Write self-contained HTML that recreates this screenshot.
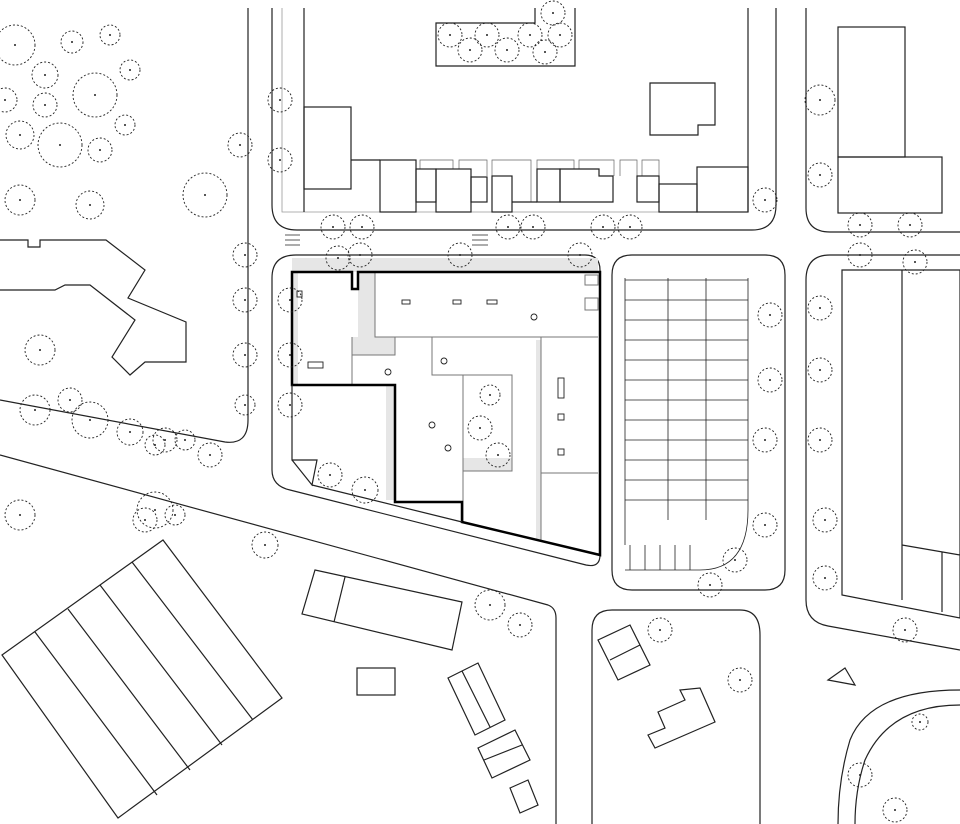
<!DOCTYPE html>
<html><head><meta charset="utf-8"><style>html,body{margin:0;padding:0;background:#fff}svg{display:block}</style></head>
<body>
<svg width="960" height="824" viewBox="0 0 960 824" xmlns="http://www.w3.org/2000/svg" fill="none" stroke="#222" stroke-width="1.2">
<!-- roads -->
<path d="M248 8 V420 Q248 445 225 442 L0 400"/>
<path d="M0 455 L548 605 Q556 608 556 618 V824"/>
<path d="M272 8 V205 Q272 230 297 230 H752 Q776 230 776 205 V8"/>
<path d="M282 8 V212 H748 V8" stroke="#999" stroke-width="0.8"/>
<path d="M304 8 V212 M748 8 V212"/>
<path d="M806 8 V208 Q806 232 830 232 H960"/>
<!-- main block -->
<path d="M296 255 H585 Q600 255 600 270 V555 Q600 568 586 565 L290 490 Q272 486 272 470 V278 Q272 255 296 255Z"/>
<path d="M292 258 H598 V272 H292 Z M292 272 H298 V385 H292Z" fill="#e6e6e6" stroke="none"/>
<path d="M358 272 H375 V337 H358Z M352 337 H395 V355 H352Z M463 458 H512 V471 H463Z M536 340 H541 V540 H536Z M386 385 H395 V500 H386Z" fill="#e6e6e6" stroke="none"/>
<g stroke="#777" stroke-width="1">
<path d="M375 272 V337 H598 M352 337 V385 M352 355 H395 V337"/>
<path d="M432 337 V375 H463 V522 M463 375 H512 V471 H463"/>
<path d="M541 337 V540 M541 473 H598"/>
<path d="M585 275 H598 V285 H585Z M585 298 H598 V310 H585Z"/>
</g>
<path d="M292 272 H352 V289 H358 V272 H600 V555 L462 522 V502 H395 V385 H292 Z" stroke="#000" stroke-width="2.5"/>
<path d="M292 385 V460 H317 L312 485 L292 460 M312 485 L462 522"/>
<g stroke-width="0.9">
<rect x="297" y="291" width="5" height="6"/><rect x="308" y="362" width="15" height="6"/><rect x="402" y="300" width="8" height="4"/><rect x="453" y="300" width="8" height="4"/><rect x="487" y="300" width="10" height="4"/><rect x="558" y="378" width="6" height="20"/><rect x="558" y="414" width="6" height="6"/><rect x="558" y="449" width="6" height="6"/>
<circle cx="534" cy="317" r="3"/><circle cx="444" cy="361" r="3"/><circle cx="388" cy="372" r="3"/><circle cx="432" cy="425" r="3"/><circle cx="448" cy="448" r="3"/>
</g>
<path d="M632 255 H765 Q785 255 785 275 V570 Q785 590 765 590 H632 Q612 590 612 570 V275 Q612 255 632 255Z"/>
<path d="M830 255 H960 M806 280 Q806 255 830 255 M806 280 V600 Q806 622 828 626 L960 650"/>
<path d="M612 610 H740 Q760 610 760 635 V824"/>
<path d="M612 610 Q592 610 592 630 V824"/>
<path d="M960 690 Q870 690 850 740 Q838 780 838 824"/>
<path d="M960 705 Q890 705 865 760 Q855 790 855 824"/>
<!-- parking stalls -->
<g stroke-width="0.8">
<path d="M625 278 V545 M668 278 V520 M706 278 V520 M748 278 V510"/>
<path d="M625 280 H748 M625 300 H748 M625 320 H748 M625 340 H748 M625 360 H748 M625 380 H748 M625 400 H748 M625 420 H748 M625 440 H748 M625 460 H748 M625 480 H748 M625 500 H748"/>
<path d="M748 510 Q748 570 700 570 H625 M630 545 V570 M645 545 V570 M660 545 V570 M675 545 V570 M690 545 V570"/>
</g>
<!-- top buildings -->
<rect x="304" y="107" width="47" height="82"/>
<path d="M351 160 H380"/>
<g stroke-width="0.7" stroke="#666"><path d="M420 169 V160 H453 V169 M459 169 V160 H487 V176 M492 176 V160 H531 V202 M537 169 V160 H574 V169 M579 169 V160 H614 V176 M620 176 V160 H637 V176 M642 176 V160 H659 V176"/></g>
<rect x="380" y="160" width="36" height="52"/>
<rect x="416" y="169" width="20" height="33"/>
<rect x="436" y="169" width="35" height="43"/>
<rect x="471" y="177" width="16" height="25"/>
<rect x="492" y="176" width="20" height="36"/>
<path d="M512 202 H537"/>
<rect x="537" y="169" width="23" height="33"/>
<path d="M560 169 H599 V176 H613 V202 H560Z"/>
<rect x="637" y="176" width="22" height="26"/>
<rect x="659" y="184" width="38" height="28"/>
<rect x="697" y="167" width="51" height="45"/>
<path d="M650 83 H715 V125 H698 V135 H650 Z"/>
<path d="M535 8 V23 H436 V66 H575 V8"/>
<rect x="838" y="27" width="67" height="130"/><rect x="838" y="157" width="104" height="56"/>
<path d="M842 270 H960 V618 L842 595 Z M902 270 V600 M902 545 L960 555 M942 552 V612"/>
<path d="M0 240 H28 V247 H40 V240 H106 L145 270 L128 298 L186 322 V362 H145 L130 375 L112 357 L135 320 L90 285 H65 L55 290 H0"/>
<!-- lower -->
<path d="M2 655 L163 540 L282 698 L118 818 Z M35 632 L157 795 M68 609 L190 770 M100 585 L222 745 M132 562 L253 720"/>
<path d="M315 570 L462 602 L452 650 L302 614 Z M345 577 L334 622"/>
<rect x="357" y="668" width="38" height="27"/>
<path d="M448 678 L478 663 L505 720 L475 735 Z M462 671 L490 727"/>
<path d="M478 748 L515 730 L530 760 L492 778 Z M484 760 L522 745"/>
<path d="M510 788 L528 780 L538 805 L520 813 Z"/>
<path d="M598 640 L630 625 L650 665 L618 680 Z M610 660 L640 645"/>
<path d="M648 735 L665 728 L658 712 L685 700 L680 690 L700 688 L715 722 L655 748 Z"/>
<path d="M828 680 L845 668 L855 685 Z"/>
<path d="M285 235 H300 M285 240 H300 M285 245 H300 M472 235 H488 M472 240 H488 M472 245 H488" stroke-width="0.7"/>
<!-- trees -->
<g id="trees" stroke-dasharray="2 2" stroke-width="0.9">
<circle cx="15" cy="45" r="20"/><circle cx="45" cy="75" r="13"/><circle cx="72" cy="42" r="11"/><circle cx="95" cy="95" r="22"/><circle cx="60" cy="145" r="22"/><circle cx="20" cy="135" r="14"/><circle cx="100" cy="150" r="12"/><circle cx="45" cy="105" r="12"/><circle cx="20" cy="200" r="15"/><circle cx="90" cy="205" r="14"/><circle cx="125" cy="125" r="10"/><circle cx="130" cy="70" r="10"/><circle cx="205" cy="195" r="22"/><circle cx="240" cy="145" r="12"/><circle cx="245" cy="255" r="12"/><circle cx="245" cy="300" r="12"/><circle cx="245" cy="355" r="12"/><circle cx="245" cy="405" r="10"/><circle cx="40" cy="350" r="15"/><circle cx="35" cy="410" r="15"/><circle cx="90" cy="420" r="18"/><circle cx="130" cy="432" r="13"/><circle cx="165" cy="440" r="12"/><circle cx="210" cy="455" r="12"/><circle cx="155" cy="510" r="18"/><circle cx="20" cy="515" r="15"/><circle cx="265" cy="545" r="13"/><circle cx="280" cy="100" r="12"/><circle cx="280" cy="160" r="12"/><circle cx="333" cy="227" r="12"/><circle cx="362" cy="227" r="12"/><circle cx="508" cy="227" r="12"/><circle cx="533" cy="227" r="12"/><circle cx="603" cy="227" r="12"/><circle cx="630" cy="227" r="12"/><circle cx="765" cy="200" r="12"/><circle cx="820" cy="100" r="15"/><circle cx="820" cy="175" r="12"/><circle cx="860" cy="225" r="12"/><circle cx="910" cy="225" r="12"/><circle cx="860" cy="255" r="12"/><circle cx="915" cy="262" r="12"/><circle cx="820" cy="308" r="12"/><circle cx="820" cy="370" r="12"/><circle cx="820" cy="440" r="12"/><circle cx="825" cy="520" r="12"/><circle cx="825" cy="578" r="12"/><circle cx="905" cy="630" r="12"/><circle cx="770" cy="315" r="12"/><circle cx="770" cy="380" r="12"/><circle cx="765" cy="440" r="12"/><circle cx="765" cy="525" r="12"/><circle cx="735" cy="560" r="12"/><circle cx="710" cy="585" r="12"/><circle cx="490" cy="395" r="10"/><circle cx="480" cy="428" r="12"/><circle cx="498" cy="455" r="12"/><circle cx="460" cy="255" r="12"/><circle cx="338" cy="258" r="12"/><circle cx="360" cy="255" r="12"/><circle cx="580" cy="255" r="12"/><circle cx="365" cy="490" r="13"/><circle cx="330" cy="475" r="12"/><circle cx="290" cy="300" r="12"/><circle cx="290" cy="355" r="12"/><circle cx="290" cy="405" r="12"/><circle cx="490" cy="605" r="15"/><circle cx="520" cy="625" r="12"/><circle cx="660" cy="630" r="12"/><circle cx="740" cy="680" r="12"/><circle cx="860" cy="775" r="12"/><circle cx="920" cy="722" r="8"/><circle cx="895" cy="810" r="12"/><circle cx="553" cy="13" r="12"/><circle cx="450" cy="35" r="12"/><circle cx="487" cy="35" r="12"/><circle cx="530" cy="35" r="12"/><circle cx="560" cy="35" r="12"/><circle cx="470" cy="50" r="12"/><circle cx="507" cy="50" r="12"/><circle cx="545" cy="52" r="12"/><circle cx="110" cy="35" r="10"/><circle cx="5" cy="100" r="12"/><circle cx="155" cy="445" r="10"/><circle cx="185" cy="440" r="10"/><circle cx="70" cy="400" r="12"/><circle cx="145" cy="520" r="12"/><circle cx="175" cy="515" r="10"/></g>
<g id="dots" fill="#222" stroke="none"></g>
</svg>
<script>
var d=document.getElementById('dots');document.querySelectorAll('#trees circle').forEach(function(c){var e=document.createElementNS('http://www.w3.org/2000/svg','circle');e.setAttribute('cx',c.getAttribute('cx'));e.setAttribute('cy',c.getAttribute('cy'));e.setAttribute('r','1');d.appendChild(e);});
</script>
</body></html>
